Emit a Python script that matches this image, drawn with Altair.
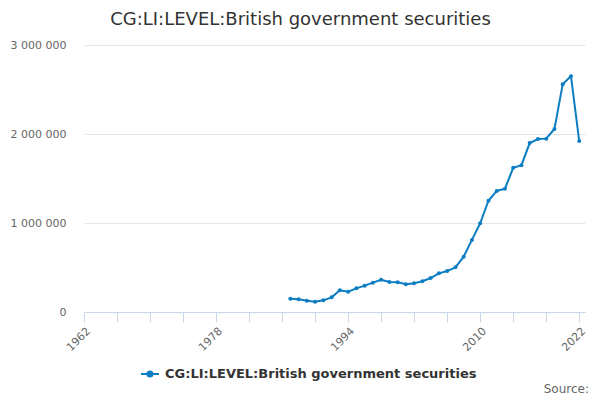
import altair as alt
import pandas as pd

years = list(range(1987, 2023))
values = [148000, 143000, 127000, 116000, 131000, 165000, 244000, 228000, 266000, 296000,
          330000, 363000, 337000, 333000, 311000, 322000, 345000, 382000, 434000, 460000,
          502000, 622000, 810000, 997000, 1250000, 1360000, 1385000, 1620000, 1650000, 1898000,
          1944000, 1948000, 2056000, 2560000, 2650000, 1920000]
series_name = "CG:LI:LEVEL:British government securities"
x_ticks = list(range(1962, 2023, 4))
x_labels = [1962, 1978, 1994, 2010, 2022]
y_ticks = [0, 1000000, 2000000, 3000000]

df = pd.DataFrame({"year": years, "value": values, "series": [series_name] * len(years)})
src_df = pd.DataFrame({"label": ["Source:"]})

COLOR = "#0b7dc2"
FONT = "DejaVu Sans"

label_test = " || ".join(f"datum.value == {v}" for v in x_labels)

x = alt.X("year:Q",
          scale=alt.Scale(domain=[1962, 2022.7], nice=False, zero=False),
          axis=alt.Axis(values=x_ticks, title=None, grid=False,
                        labelExpr=f"({label_test}) ? datum.value : ''",
                        labelAngle=-45, labelAlign="right", labelBaseline="top",
                        labelPadding=3, labelFont=FONT, labelFontSize=11,
                        labelColor="#666666",
                        tickSize=10, tickColor="#ccd6eb", domainColor="#ccd6eb",
                        labelOverlap=False, labelFlush=False))
y = alt.Y("value:Q",
          scale=alt.Scale(domain=[0, 3000000], nice=False),
          axis=alt.Axis(values=y_ticks, title=None, grid=True, gridColor="#e6e6e6",
                        domain=False, ticks=False, labelPadding=18,
                        labelExpr="replace(format(datum.value, ','), regexp(',', 'g'), ' ')",
                        labelFont=FONT, labelFontSize=11, labelColor="#666666"))

color = alt.Color("series:N", scale=alt.Scale(range=[COLOR]),
                  legend=alt.Legend(title=None, orient="none", legendX=56, legendY=319,
                                    symbolType="M-1,0H1M-0.28,0A0.28,0.28,0,1,0,0.28,0A0.28,0.28,0,1,0,-0.28,0Z",
                                    symbolSize=324, symbolStrokeWidth=2, symbolFillColor=COLOR,
                                    symbolStrokeColor=COLOR,
                                    labelFont=FONT, labelFontSize=13, labelFontWeight="bold",
                                    labelColor="#333333", labelLimit=400, labelOffset=5))

line = alt.Chart(df).mark_line(strokeWidth=2).encode(x=x, y=y, color=color)
points = alt.Chart(df).mark_point(filled=True, size=16, opacity=1).encode(
    x=x, y=y, color=alt.Color("series:N", scale=alt.Scale(range=[COLOR]), legend=None))

source = alt.Chart(src_df).mark_text(align="right", baseline="alphabetic",
                                     font=FONT, fontSize=12, color="#666666").encode(
    text="label:N", x=alt.value(505), y=alt.value(348))

chart = alt.layer(line, points, source).properties(
    width=501, height=267,
    title=alt.TitleParams(series_name, font=FONT, fontSize=18, fontWeight="normal",
                          color="#333333", anchor="middle", dx=-34, offset=10),
    autosize=alt.AutoSizeParams(type="none"),
    padding={"left": 76, "top": 37, "right": 7, "bottom": 88},
).configure_view(stroke=None)

chart.save("out.html", embed_options={"renderer": "svg", "actions": False})
